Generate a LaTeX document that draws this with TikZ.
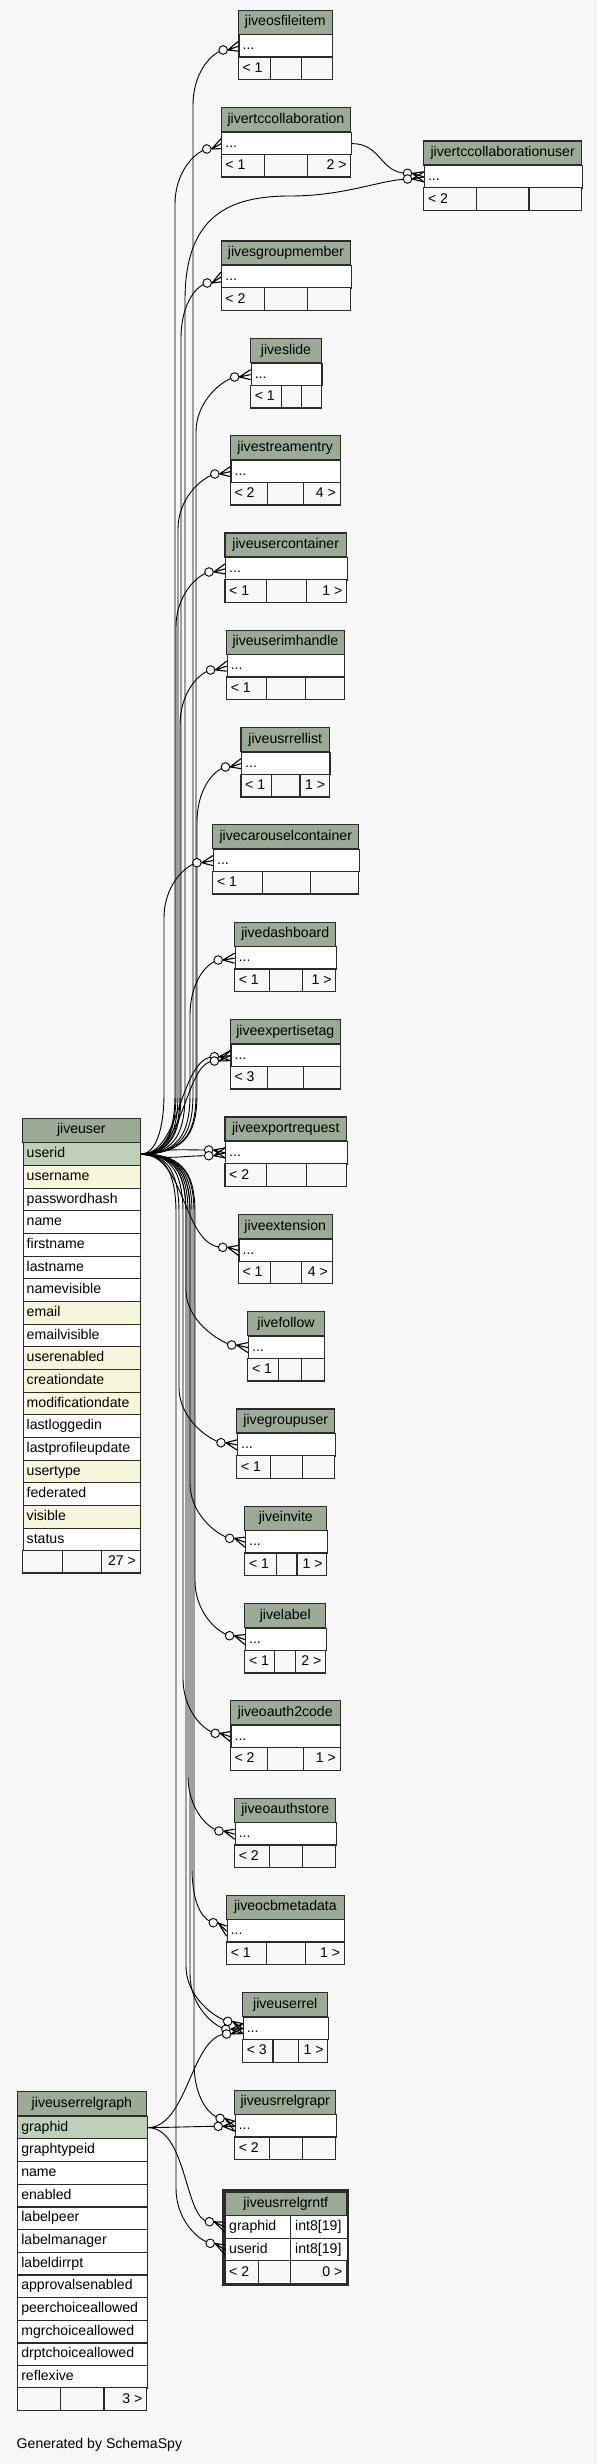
\documentclass[tikz,border=0pt]{standalone}
\usepackage{fontspec}
\setmainfont{Liberation Sans}
\definecolor{bg}{HTML}{F7F7F7}
\definecolor{hdr}{HTML}{9BAB96}
\definecolor{pk}{HTML}{BED1B8}
\definecolor{idx}{HTML}{F4F7DA}
\definecolor{bd}{HTML}{2B2B2B}
\tikzset{
 cell/.style={draw=bd, line width=1.1pt},
 txt/.style={inner sep=0pt, font=\fontsize{14.1}{16}\selectfont},
 rel/.style={draw=black, line width=0.9pt},
 odot/.style={circle, draw=black, fill=bg, line width=0.9pt, minimum size=8.6pt, inner sep=0pt},
 crowline/.style={draw=black, line width=1.1pt},
}
% id, title, x1, x2, top, split1, split2, left footer, right footer
\newcommand\schtbl[9]{%
 \filldraw[cell, fill=hdr] (#3,#5) rectangle (#4,#5+24);
 \node[txt, anchor=base] (#1-h) at ({(#3+#4)/2},#5+15.5) {#2};
 \node[cell, fill=white, inner sep=0pt, anchor=north west, minimum width={(#4-#3)*1pt}, minimum height=22.67pt] (#1) at (#3,#5+24) {};
 \node[txt, anchor=base west] at (#3+4,#5+39.5) {...};
 \filldraw[cell, fill=bg] (#3,#5+46.67) rectangle (#6,#5+69.33);
 \filldraw[cell, fill=bg] (#6,#5+46.67) rectangle (#7,#5+69.33);
 \filldraw[cell, fill=bg] (#7,#5+46.67) rectangle (#4,#5+69.33);
 \node[txt, anchor=base west] at (#3+4,#5+62.2) {#8};
 \node[txt, anchor=base east] at (#4-4,#5+62.2) {#9};
}
\newcommand\crow[2]{%
 \draw[crowline] (#1.east) -- ([yshift=5pt]#2) (#1.east) -- (#2) (#1.east) -- ([yshift=-5pt]#2);
}
% start anchor, start y, bundle x, circle x, circle y, circle name
\newcommand\upedge[6]{%
 \draw[rel] (#1) .. controls ({#3-8},#2) and (#3,{#2-25}) .. (#3,{#2-60}) -- (#3,{#5+55}) .. controls (#3,{#5+25}) and ({#4-14},{#5+4}) .. (#4,#5) node[odot] (#6) {};
}
\newcommand\downedge[6]{%
 \draw[rel] (#1) .. controls ({#3-8},#2) and (#3,{#2+25}) .. (#3,{#2+60}) -- (#3,{#5-55}) .. controls (#3,{#5-25}) and ({#4-14},{#5-4}) .. (#4,#5) node[odot] (#6) {};
}
\begin{document}
\begin{tikzpicture}[x=1pt,y=-1pt]
\fill[bg] (0,0) rectangle (597,2464);
\useasboundingbox (0,0) rectangle (597,2464);

% ---------- tables ----------
\schtbl{t-osfi}{jiveosfileitem}{238.4}{332.1}{10.3}{270.4}{301.2}{< 1}{}
\schtbl{t-rtc}{jivertccollaboration}{221.2}{350.7}{107.7}{264.7}{307.7}{< 1}{2 >}
\schtbl{t-rcu}{jivertccollaborationuser}{423.8}{581.5}{141}{476.4}{529}{< 2}{}
\schtbl{t-sgm}{jivesgroupmember}{221.2}{350.7}{241}{264.7}{307.7}{< 2}{}
\schtbl{t-slide}{jiveslide}{250.6}{321.4}{338.7}{281.4}{301.2}{< 1}{}
\schtbl{t-stream}{jivestreamentry}{230.4}{340.1}{435.7}{267.7}{303.9}{< 2}{4 >}
\schtbl{t-ucont}{jiveusercontainer}{225}{346.5}{533}{266.9}{306.9}{< 1}{1 >}
\schtbl{t-uim}{jiveuserimhandle}{226.6}{344.2}{630.3}{266.9}{305.4}{< 1}{}
\schtbl{t-url}{jiveusrrellist}{241}{329.4}{727.7}{271.5}{300}{< 1}{1 >}
\schtbl{t-car}{jivecarouselcontainer}{212.9}{358.7}{824.7}{262.4}{310.7}{< 1}{}
\schtbl{t-dash}{jivedashboard}{234.6}{335.9}{922.3}{269.2}{302.7}{< 1}{1 >}
\schtbl{t-exp}{jiveexpertisetag}{230.4}{340.1}{1019.7}{267.7}{303.9}{< 3}{}
\schtbl{t-xr}{jiveexportrequest}{225}{346.5}{1117}{266.9}{306.9}{< 2}{}
\schtbl{t-ext}{jiveextension}{238.4}{332.1}{1214.5}{270.4}{301.2}{< 1}{4 >}
\schtbl{t-fol}{jivefollow}{247.9}{324.1}{1311.7}{278.4}{301.2}{< 1}{}
\schtbl{t-gu}{jivegroupuser}{236.9}{334.7}{1409}{270.4}{302.7}{< 1}{}
\schtbl{t-inv}{jiveinvite}{244.9}{326.7}{1506.3}{276.1}{297}{< 1}{1 >}
\schtbl{t-lab}{jivelabel}{244.9}{325.6}{1603.7}{274.9}{295.9}{< 1}{2 >}
\schtbl{t-oa2}{jiveoauth2code}{230.4}{340.1}{1700.7}{267.7}{303.9}{< 2}{1 >}
\schtbl{t-oas}{jiveoauthstore}{234.6}{335.9}{1798.3}{269.2}{302.7}{< 2}{}
\schtbl{t-ocb}{jiveocbmetadata}{226.6}{344.2}{1895.3}{266.9}{305.4}{< 1}{1 >}
\schtbl{t-ur}{jiveuserrel}{242.6}{327.9}{1992.7}{273}{298.9}{< 3}{1 >}
\schtbl{t-gp}{jiveusrrelgrapr}{234.6}{335.9}{2090.3}{269.2}{302.7}{< 2}{}

% jiveuser
\filldraw[cell, fill=hdr] (22.5,1118.3) rectangle (140.1,1142.3);
\node[txt, anchor=base] (ju-h) at (81.3,1133.8) {jiveuser};
\foreach \n/\c [count=\i from 0] in {userid/pk,username/idx,passwordhash/white,name/white,firstname/white,lastname/white,namevisible/white,email/idx,emailvisible/white,userenabled/idx,creationdate/idx,modificationdate/idx,lastloggedin/white,lastprofileupdate/white,usertype/idx,federated/white,visible/idx,status/white}{
 \node[cell, fill=\c, inner sep=0pt, anchor=north west, minimum width=117.6pt, minimum height=22.67pt] (ju-\n) at (22.5,{1142.3+\i*22.67}) {};
 \node[txt, anchor=base west] at (26.5,{1157.8+\i*22.67}) {\n};
}
\filldraw[cell, fill=bg] (22.5,1550.4) rectangle (62.5,1573);
\filldraw[cell, fill=bg] (62.5,1550.4) rectangle (101.3,1573);
\filldraw[cell, fill=bg] (101.3,1550.4) rectangle (140.1,1573);
\node[txt, anchor=base east] at (136.1,1565.9) {27 >};

% jiveuserrelgraph
\filldraw[cell, fill=hdr] (17.1,2091.7) rectangle (146.6,2115.7);
\node[txt, anchor=base] (jg-h) at (81.9,2107.2) {jiveuserrelgraph};
\foreach \n/\c [count=\i from 0] in {graphid/pk,graphtypeid/white,name/white,enabled/white,labelpeer/white,labelmanager/white,labeldirrpt/white,approvalsenabled/white,peerchoiceallowed/white,mgrchoiceallowed/white,drptchoiceallowed/white,reflexive/white}{
 \node[cell, fill=\c, inner sep=0pt, anchor=north west, minimum width=129.5pt, minimum height=22.67pt] (jg-\n) at (17.1,{2115.7+\i*22.67}) {};
 \node[txt, anchor=base west] at (21.1,{2131.2+\i*22.67}) {\n};
}
\filldraw[cell, fill=bg] (17.1,2387.7) rectangle (60.9,2410.4);
\filldraw[cell, fill=bg] (60.9,2387.7) rectangle (104,2410.4);
\filldraw[cell, fill=bg] (104,2387.7) rectangle (146.6,2410.4);
\node[txt, anchor=base east] at (142.6,2403.2) {3 >};

% jiveusrrelgrntf (focused table)
\filldraw[draw=bd, line width=3pt, fill=bg] (223,2190) rectangle (347.6,2284.6);
\filldraw[cell, fill=hdr] (225,2192) rectangle (346.5,2215.3);
\node[txt, anchor=base] (gf-h) at (285.8,2207.5) {jiveusrrelgrntf};
\node[cell, fill=white, inner sep=0pt, anchor=north west, minimum width=121.5pt, minimum height=22.67pt] (gf-graphid) at (225,2215.3) {};
\node[cell, fill=white, inner sep=0pt, anchor=north west, minimum width=121.5pt, minimum height=22.67pt] (gf-userid) at (225,2238) {};
\draw[cell] (290.6,2215.3) -- (290.6,2260.7);
\node[txt, anchor=base west] at (229,2230.8) {graphid};
\node[txt, anchor=base west] at (295,2230.8) {int8[19]};
\node[txt, anchor=base west] at (229,2253.5) {userid};
\node[txt, anchor=base west] at (295,2253.5) {int8[19]};
\filldraw[cell, fill=bg] (225,2260.7) rectangle (258.6,2283.3);
\filldraw[cell, fill=bg] (258.6,2260.7) rectangle (290.6,2283.3);
\filldraw[cell, fill=bg] (290.6,2260.7) rectangle (346.5,2283.3);
\node[txt, anchor=base west] at (229,2276.2) {< 2};
\node[txt, anchor=base east] at (342.5,2276.2) {0 >};

\node[txt, anchor=base west] (gen) at (16.5,2448) {Generated by SchemaSpy};

% ---------- connectors ----------
\upedge{ju-userid.east}{1153.6}{193}{223.2}{50}{o-osfi}
\upedge{ju-userid.east}{1153.6}{175}{206.8}{149}{o-rtc}
\draw[rel] (t-rtc.east) .. controls +(30,0) and +(-28,0) .. (407.5,173.3) node[odot] (o-rcu1) {};
\draw[rel] (ju-userid.east) .. controls (177,1153.6) and (185,1129) .. (185,1094) -- (185,300) .. controls (185,215) and (230,196) .. (290,196) .. controls (345,196) and (380,180) .. (407.5,179) node[odot] (o-rcu2) {};
\upedge{ju-userid.east}{1153.6}{181}{207.2}{283}{o-sgm}
\upedge{ju-userid.east}{1153.6}{196}{234.6}{377}{o-slide}
\upedge{ju-userid.east}{1153.6}{178}{214.8}{474}{o-stream}
\upedge{ju-userid.east}{1153.6}{176}{209}{572}{o-ucont}
\upedge{ju-userid.east}{1153.6}{180}{210.6}{670}{o-uim}
\upedge{ju-userid.east}{1153.6}{197}{225.4}{767}{o-url}
\upedge{ju-userid.east}{1153.6}{164}{196.9}{862.7}{o-car}
\upedge{ju-userid.east}{1153.6}{190}{218.2}{960}{o-dash}
\draw[rel] (ju-userid.east) .. controls +(40,0) and +(-35,0) .. (214.4,1056.7) node[odot] (o-exp1) {};
\draw[rel] (ju-userid.east) .. controls +(45,0) and +(-30,0) .. (214.4,1061) node[odot] (o-exp2) {};
\draw[rel] (ju-userid.east) .. controls +(30,-6) and +(-30,0) .. (208.7,1150) node[odot] (o-xr1) {};
\draw[rel] (ju-userid.east) .. controls +(30,6) and +(-30,0) .. (208.7,1155.7) node[odot] (o-xr2) {};
\draw[rel] (ju-userid.east) .. controls +(45,0) and +(-40,0) .. (222.7,1247.3) node[odot] (o-ext) {};
\downedge{ju-userid.east}{1153.6}{186}{231.7}{1345}{o-fol}
\downedge{ju-userid.east}{1153.6}{179}{221}{1442.7}{o-gu}
\downedge{ju-userid.east}{1153.6}{190}{229.6}{1538.3}{o-inv}
\downedge{ju-userid.east}{1153.6}{195}{229.6}{1635.7}{o-lab}
\downedge{ju-userid.east}{1153.6}{183}{215.2}{1733.3}{o-oa2}
\downedge{ju-userid.east}{1153.6}{188}{219}{1831}{o-oas}
\downedge{ju-userid.east}{1153.6}{192}{213.3}{1922.7}{o-ocb}
\downedge{ju-userid.east}{1153.6}{186}{227.7}{2021.3}{o-ur1}
\downedge{ju-userid.east}{1153.6}{190}{225.8}{2029.3}{o-ur2}
\downedge{ju-userid.east}{1153.6}{194}{220.1}{2118.3}{o-gp1}
\downedge{ju-userid.east}{1153.6}{176}{210.2}{2243.3}{o-gf2}
\draw[rel] (jg-graphid.east) .. controls +(40,0) and +(-35,0) .. (226.6,2034) node[odot] (o-ur3) {};
\draw[rel] (jg-graphid.east) .. controls +(20,0) and +(-20,0) .. (218.2,2126.3) node[odot] (o-gp2) {};
\draw[rel] (jg-graphid.east) .. controls +(40,0) and +(-25,0) .. (209.4,2221.7) node[odot] (o-gf1) {};

% crow's feet
\crow{o-osfi}{t-osfi.west}
\crow{o-rtc}{t-rtc.west}
\crow{o-rcu1}{t-rcu.west}
\crow{o-rcu2}{t-rcu.west}
\crow{o-sgm}{t-sgm.west}
\crow{o-slide}{t-slide.west}
\crow{o-stream}{t-stream.west}
\crow{o-ucont}{t-ucont.west}
\crow{o-uim}{t-uim.west}
\crow{o-url}{t-url.west}
\crow{o-car}{t-car.west}
\crow{o-dash}{t-dash.west}
\crow{o-exp1}{t-exp.west}
\crow{o-exp2}{t-exp.west}
\crow{o-xr1}{t-xr.west}
\crow{o-xr2}{t-xr.west}
\crow{o-ext}{t-ext.west}
\crow{o-fol}{t-fol.west}
\crow{o-gu}{t-gu.west}
\crow{o-inv}{t-inv.west}
\crow{o-lab}{t-lab.west}
\crow{o-oa2}{t-oa2.west}
\crow{o-oas}{t-oas.west}
\crow{o-ocb}{t-ocb.west}
\crow{o-ur1}{t-ur.west}
\crow{o-ur2}{t-ur.west}
\crow{o-ur3}{t-ur.west}
\crow{o-gp1}{t-gp.west}
\crow{o-gp2}{t-gp.west}
\crow{o-gf1}{gf-graphid.west}
\crow{o-gf2}{gf-userid.west}
\end{tikzpicture}
\end{document}
